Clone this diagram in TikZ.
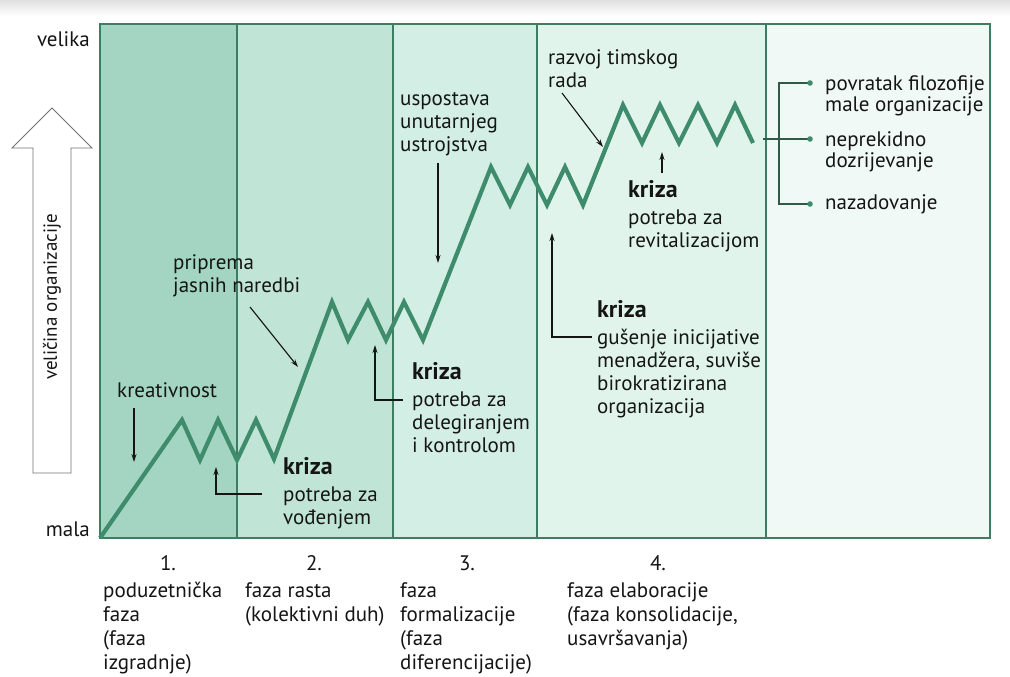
\documentclass[tikz,border=0pt]{standalone}
\usepackage{fontspec}
\setmainfont{PT Sans}
\usetikzlibrary{arrows.meta}
\definecolor{colA}{HTML}{A3D5C2}
\definecolor{colB}{HTML}{C0E4D6}
\definecolor{colC}{HTML}{D3EEE4}
\definecolor{colD}{HTML}{E0F4EC}
\definecolor{colE}{HTML}{F0F9F5}
\definecolor{frameC}{HTML}{3F7D63}
\definecolor{zigC}{HTML}{3E8C6C}
\definecolor{txtC}{HTML}{151515}
\definecolor{brC}{HTML}{2F5A48}
\tikzset{
  lbl/.style={inner sep=0pt, anchor=north west, align=left, font=\fontsize{21}{23}\selectfont, text=txtC},
  lblr/.style={lbl, font=\fontsize{21}{21}\selectfont},
  lblb/.style={lbl, font=\fontsize{21}{24}\selectfont},
  kr/.style={inner sep=0pt, anchor=north west, font=\fontsize{24}{26}\selectfont\bfseries, text=txtC},
  num/.style={inner sep=0pt, font=\fontsize{21}{23}\selectfont, text=txtC},
  arr/.style={draw=txtC, line width=1.1pt, -{Stealth[length=8pt,width=5pt]}},
  zig/.style={draw=zigC, line width=4.2pt, line join=miter},
  divider/.style={draw=frameC, line width=1.1pt},
}
\begin{document}
\begin{tikzpicture}[x=1pt,y=-1pt]
\useasboundingbox (0,0) rectangle (1010,677);
\fill[white] (0,0) rectangle (1010,677);
\shade[top color=black!12, bottom color=white] (0,0) rectangle (1010,16);
% columns
\fill[colA] (100,24) rectangle (237,538);
\fill[colB] (237,24) rectangle (393,538);
\fill[colC] (393,24) rectangle (537,538);
\fill[colD] (537,24) rectangle (766,538);
\fill[colE] (766,24) rectangle (990,538);
\draw[divider] (237,24) -- (237,538);
\draw[divider] (393,24) -- (393,538);
\draw[divider] (537,24) -- (537,538);
\draw[divider] (766,24) -- (766,538);
\draw[draw=frameC, line width=2.6pt] (100,24) rectangle (990,538);
% axis
\node[num, anchor=east] (velika) at (90,39) {velika};
\node[num, anchor=east] (mala) at (90,529) {mala};
\draw[draw=black!55, line width=0.9pt, fill=white] (33,473) -- (33,148) -- (12,148) -- (52,108) -- (92,148) -- (71,148) -- (71,473) -- cycle;
\node[inner sep=0pt, font=\fontsize{19}{23}\selectfont, text=txtC, rotate=90] (osa) at (52,297) {veličina organizacije};
% zigzag
\draw[zig] (100,538) -- (182,420) -- (200,460) -- (218,420) -- (237,460) -- (256,420) -- (274,459)
  -- (332,302) -- (348,340) -- (368,302) -- (386,340) -- (404,302) -- (423,340)
  -- (491,167) -- (510,205) -- (528,167) -- (547,205) -- (565,167) -- (583,205)
  -- (623,105) -- (642,143) -- (660,105) -- (679,143) -- (698,105) -- (717,143) -- (735,105) -- (753,143);
% labels
\node[lbl] (kreat) at (117,382) {kreativnost};
\coordinate (kreatS) at (134,408); \coordinate (kreatE) at (134,462);
\draw[arr] (kreatS) -- (kreatE);

\node[kr] (kriza1) at (283,457) {kriza};
\node[lbl] (kd1) at (283,487) {potreba za\\vođenjem};
\coordinate (k1a) at (262,494); \coordinate (k1b) at (216,494); \coordinate (k1c) at (216,467);
\draw[arr] (k1a) -- (k1b) -- (k1c);

\node[lbl] (pripr) at (173,254) {priprema\\jasnih naredbi};
\coordinate (prS) at (250,307); \coordinate (prE) at (298,367);
\draw[arr] (prS) -- (prE);

\node[kr] (kriza2) at (412,362) {kriza};
\node[lbl] (kd2) at (412,392) {potreba za\\delegiranjem\\i kontrolom};
\coordinate (k2a) at (403,400); \coordinate (k2b) at (375,400); \coordinate (k2c) at (375,345);
\draw[arr] (k2a) -- (k2b) -- (k2c);

\node[lbl] (uspost) at (400,92) {uspostava\\unutarnjeg\\ustrojstva};
\coordinate (usS) at (438,163); \coordinate (usE) at (438,263);
\draw[arr] (usS) -- (usE);

\node[lbl] (razvoj) at (548,49) {razvoj timskog\\rada};
\coordinate (raS) at (562,93); \coordinate (raE) at (603,147);
\draw[arr] (raS) -- (raE);

\node[kr] (kriza3) at (628,180) {kriza};
\node[lbl] (kd3) at (628,210) {potreba za\\revitalizacijom};
\coordinate (k3S) at (662,173); \coordinate (k3E) at (662,152);
\draw[arr] (k3S) -- (k3E);

\node[kr] (kriza4) at (597,300) {kriza};
\node[lbl] (kd4) at (597,329) {gušenje inicijative\\menadžera, suviše\\birokratizirana\\organizacija};
\coordinate (k4a) at (592,337); \coordinate (k4b) at (552,337); \coordinate (k4c) at (552,233);
\draw[arr] (k4a) -- (k4b) -- (k4c);

% right bracket
\coordinate (zEnd) at (763,139);
\coordinate (bTop) at (779,83); \coordinate (bBot) at (779,204);
\node[lblr] (o1) at (825,75) {povratak filozofije\\male organizacije};
\node[lblr] (o2) at (825,131) {neprekidno\\dozrijevanje};
\node[lblr] (o3) at (825,194) {nazadovanje};
\coordinate (d1) at (810,83); \coordinate (d2) at (810,139); \coordinate (d3) at (810,204);
\draw[draw=brC, line width=1.2pt] (d1) -- (bTop) -- (bBot) -- (d3);
\draw[draw=brC, line width=1.2pt] (zEnd) -- (d2);
\foreach \d in {d1,d2,d3} \fill[zigC] (\d) circle (2.8pt);

% bottom
\node[num] (n1) at (168,563) {1.};
\node[num] (n2) at (314,563) {2.};
\node[num] (n3) at (467,563) {3.};
\node[num] (n4) at (658,563) {4.};
\node[lblb] (f1) at (103,582) {poduzetnička\\faza\\(faza\\izgradnje)};
\node[lblb] (f2) at (245,582) {faza rasta\\(kolektivni duh)};
\node[lblb] (f3) at (400,582) {faza\\formalizacije\\(faza\\diferencijacije)};
\node[lblb] (f4) at (567,582) {faza elaboracije\\(faza konsolidacije,\\usavršavanja)};
\end{tikzpicture}
\end{document}
